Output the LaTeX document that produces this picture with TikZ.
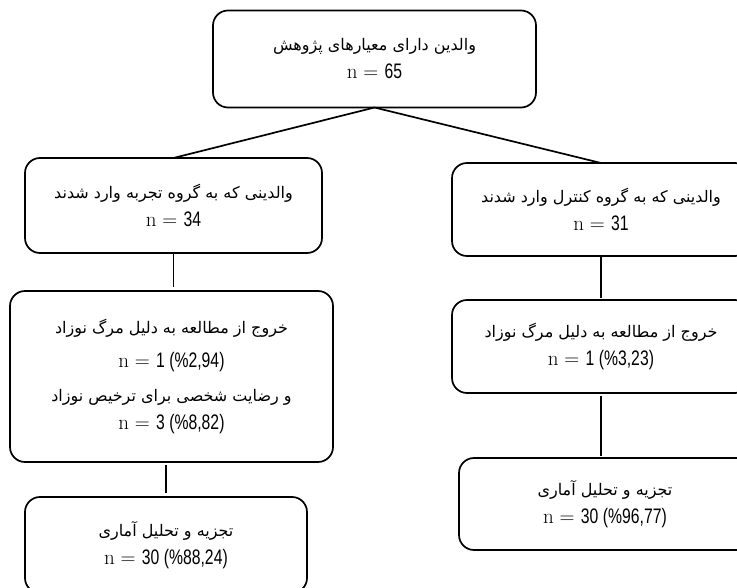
\documentclass[tikz,border=0pt]{standalone}
\usepackage{fontspec}
\TeXXeTstate=1
\newfontfamily\fafont[Script=Arabic]{DejaVu Sans}
\newfontfamily\numfont[FakeStretch=0.75]{Liberation Sans}
\newcommand\fat[1]{{\fafont\fontsize{16}{28}\selectfont\beginR #1\endR}}
\newcommand\nval[1]{{\fontsize{21}{28}\selectfont$\mathrm{n}=$ {\numfont\fontsize{21}{28}\selectfont #1}}}
\tikzset{
  box/.style={draw, line width=1.7pt, rounded corners=15pt, align=center,
    inner sep=0pt, outer sep=0pt, font=\fontsize{16}{28}\selectfont},
  link/.style={line width=1.7pt}
}
\begin{document}
\begin{tikzpicture}[x=1pt,y=-1pt]
\useasboundingbox (0,0) rectangle (737,588);
\node[box, minimum width=323pt, minimum height=97pt] (top) at (374.5,59)
  {\fat{والدین دارای معیارهای پژوهش}\\ \nval{65}};
\node[box, minimum width=297pt, minimum height=95pt] (l1) at (173.5,205.5)
  {\fat{والدینی که به گروه تجربه وارد شدند}\\ \nval{34}};
\node[box, minimum width=323pt, minimum height=171pt] (l2) at (171.5,376.5)
  {\fat{خروج از مطالعه به دلیل مرگ نوزاد}\\[6pt] \nval{1 (\%2,94)}\\[6pt] \fat{و رضایت شخصی برای ترخیص نوزاد}\\ \nval{3 (\%8,82)}};
\node[box, minimum width=282pt, minimum height=96pt] (l3) at (166,545)
  {\fat{تجزیه و تحلیل آماری}\\ \nval{30 (\%88,24)}};
\node[box, minimum width=298pt, minimum height=93pt] (r1) at (601,209.5)
  {\fat{والدینی که به گروه کنترل وارد شدند}\\ \nval{31}};
\node[box, minimum width=298pt, minimum height=93pt] (r2) at (601,346.5)
  {\fat{خروج از مطالعه به دلیل مرگ نوزاد}\\ \nval{1 (\%3,23)}};
\node[box, minimum width=292pt, minimum height=92pt] (r3) at (605,504)
  {\fat{تجزیه و تحلیل آماری}\\ \nval{30 (\%96,77)}};
\draw[link] (l1.north) -- (top.south) -- (r1.north);
\draw[link, shorten >=4pt] (l1.south) -- (l1.south |- l2.north);
\draw[link, shorten <=3pt, shorten >=4pt] (l2.south -| l3.north) -- (l3.north);
\draw[link, shorten >=2pt] (r1.south) -- (r1.south |- r2.north);
\draw[link, shorten <=3pt, shorten >=2pt] (r2.south) -- (r2.south |- r3.north);
\end{tikzpicture}
\end{document}
